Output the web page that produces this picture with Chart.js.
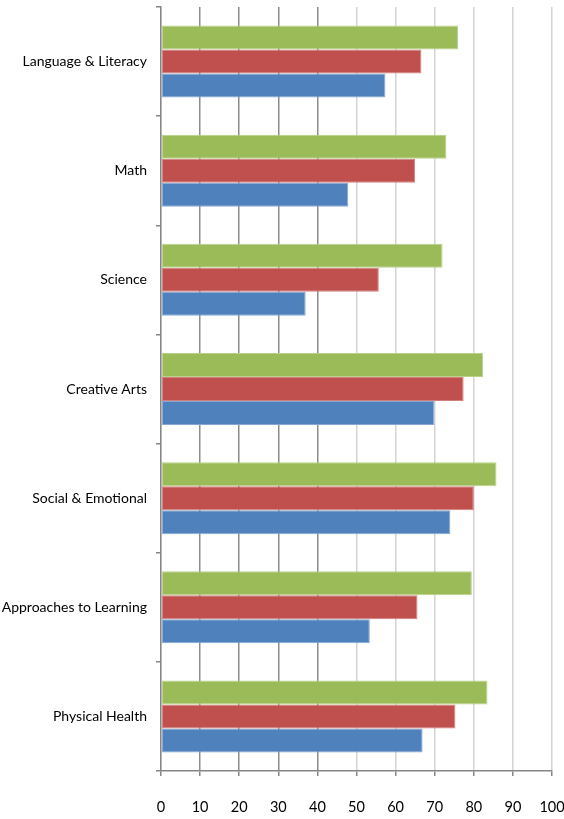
<!DOCTYPE html>
<html><head><meta charset="utf-8">
<script src="https://cdn.jsdelivr.net/npm/chart.js@4/dist/chart.umd.min.js"></script>
<style>html,body{margin:0;padding:0;background:#fff}#wrap{width:564px;height:819px}</style>
</head><body><div id="wrap"><canvas id="c" width="564" height="819"></canvas></div>
<script>
const categories = ["Language & Literacy","Math","Science","Creative Arts","Social & Emotional","Approaches to Learning","Physical Health"];
const seriesGreen = [76, 73, 72, 82.4, 85.8, 79.5, 83.5];
const seriesRed   = [66.6, 65, 55.7, 77.4, 80, 65.6, 75.3];
const seriesBlue  = [57.4, 47.9, 37, 69.9, 74, 53.4, 66.9];
const xTicks = [0,10,20,30,40,50,60,70,80,90,100];

const FONT = "Lato, 'DejaVu Sans Condensed', sans-serif";
Chart.defaults.font.family = FONT;
new Chart(document.getElementById('c'), {
  type: 'bar',
  data: {
    labels: categories,
    datasets: [
      {label:'Green', data: seriesGreen, backgroundColor:'#9BBB59', borderColor:'#b9d28a', borderWidth:1, borderSkipped:false},
      {label:'Red', data: seriesRed, backgroundColor:'#C0504D', borderColor:'#d1807e', borderWidth:1, borderSkipped:false},
      {label:'Blue', data: seriesBlue, backgroundColor:'#4F81BD', borderColor:'#85a8d3', borderWidth:1, borderSkipped:false}
    ]
  },
  options: {
    indexAxis: 'y',
    responsive: false,
    animation: false,
    devicePixelRatio: 1,
    layout: {padding: {top: 7, right: 0, left: 0, bottom: 0}},
    plugins: {legend: {display:false}, tooltip: {enabled:false}},
    datasets: {bar: {categoryPercentage: 0.66, barPercentage: 1.0}},
    scales: {
      x: {
        min: 0, max: 100,
        afterBuildTicks: (ax) => { ax.ticks = xTicks.map(v => ({value: v})); },
        ticks: {color:'#000', font:{size:14.5}, padding: 23, maxRotation:0},
        grid: {
          color: (ctx) => (ctx.tick && ctx.tick.value > 0 && ctx.tick.value <= 40) ? '#8c8c8c' : '#d4d4d4',
          lineWidth: 1.5, tickLength: 5, tickColor:'#868686', drawTicks: true
        },
        border: {color:'#868686', width: 1.5},
        afterFit: (ax) => { ax.height = 48; ax.paddingLeft = 0; ax.paddingRight = 12; }
      },
      y: {
        offset: true,
        ticks: {color:'#000', font:{size:14}, padding: 9, autoSkip:false},
        grid: {offset: true, drawOnChartArea:false, drawTicks:true, tickLength:5, tickColor:'#868686', lineWidth:1.5},
        border: {color:'#868686', width: 1.5},
        afterFit: (ax) => { ax.width = 161; ax.paddingTop = 0; ax.paddingBottom = 0; }
      }
    }
  }
});
</script></body></html>
